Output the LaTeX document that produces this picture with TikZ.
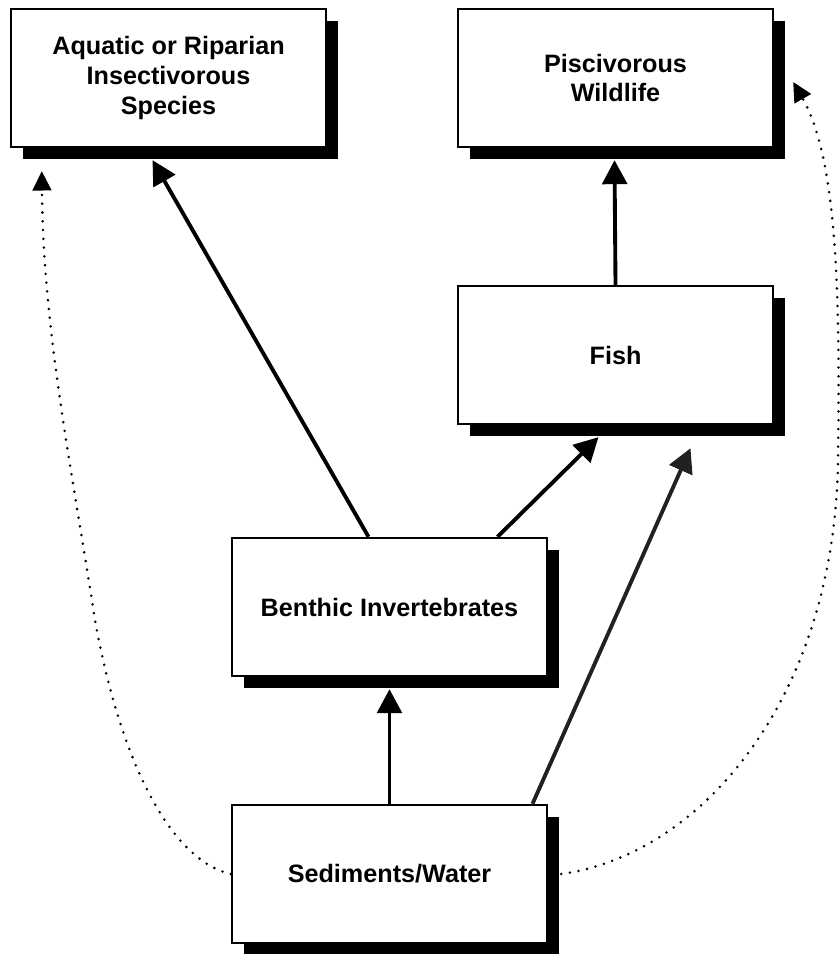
\documentclass[tikz,border=0pt]{standalone}
\usepackage{fontspec}
\setmainfont{Liberation Sans}
\usetikzlibrary{arrows.meta,calc,shadows}

\begin{document}
\begin{tikzpicture}[
    x=0.03cm, y=0.03cm,
    box/.style={rectangle, draw, line width=2pt, fill=white, minimum width=9.45cm, minimum height=4.14cm, align=center, font=\fontsize{21.5}{25.6}\selectfont\bfseries, drop shadow={shadow xshift=0.36cm, shadow yshift=-0.36cm, fill=black, opacity=1}},
    arrow/.style={-{Triangle[length=0.72cm, width=0.74cm]}, line width=3.3pt},
    route/.style={-{Triangle[length=0.58cm, width=0.56cm]}, line width=2.4pt, line cap=round, dash pattern=on 0pt off 7.5pt}
]
\useasboundingbox (0,0) rectangle (839,-954);
\node[box] (aqua) at (168.5,-78) {Aquatic or Riparian\\Insectivorous\\Species};
\node[box] (pisc) at (615.5,-78) {Piscivorous\\Wildlife};
\node[box] (fish) at (615.5,-355) {Fish};
\node[box] (benth) at (389.5,-607) {Benthic Invertebrates};
\node[box] (sed) at (389.5,-874) {Sediments/Water};
\draw[arrow] (sed.north) -- ($(benth.south)+(0,-12)$);
\draw[arrow] ($(benth.north)+(-21,0)$) -- ($(aqua.south)+(-16,-12)$);
\draw[arrow] ($(benth.north)+(108,0)$) -- ($(fish.south)+(-17,-12)$);
\draw[arrow, draw=black!87, fill=black!87] ($(sed.north)+(143,0)$) -- ($(fish.south)+(75,-23)$);
\draw[arrow] (fish.north) -- ($(pisc.south)+(-1,-12)$);
% dotted routes straight from sediments/water
\draw[route] (sed.west) .. controls (170,-860) and (120,-760) .. (95,-620) .. controls (72,-470) and (43,-330) .. ($(aqua.south west)+(32,-23)$);
\draw[route] ($(sed.east)+(13,0)$) .. controls (700,-855) and (835,-700) .. (838,-460) .. controls (840,-300) and (838,-160) .. ($(pisc.east)+(19,-4)$);
\end{tikzpicture}
\end{document}
